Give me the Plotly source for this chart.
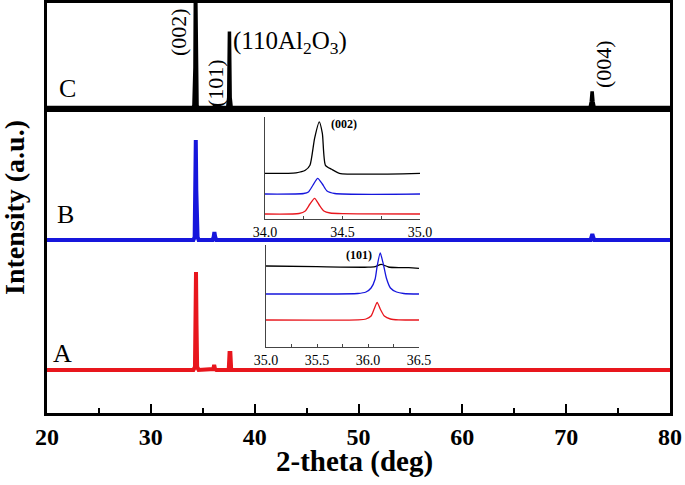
import numpy as np
import plotly.graph_objects as go

# ---------------- data ----------------
# main panel, sample A (red)
two_theta_A = [20, 34.1, 34.25, 34.3, 34.35, 34.4, 34.46, 34.6, 35.9, 36.02, 36.1, 36.18, 36.3,
               37.5, 37.58, 37.66, 37.74, 72.35, 72.5, 72.65, 80]
intensity_A = [0, 0, 3, 45, 98, 45, 3, 0, 0, 1, 5, 1, 0,
               0, 17, 17, 0, 0, 1, 0, 0]
# sample B (blue)
two_theta_B = [20, 34.1, 34.22, 34.28, 34.33, 34.38, 34.43, 34.5, 34.6, 35.95, 36.05, 36.12, 36.2, 36.3,
               72.35, 72.45, 72.52, 72.6, 72.7, 80]
intensity_B = [0, 0, 3, 50, 100, 50, 6, 3, 0, 0, 3, 8, 3, 0,
               0, 3, 6, 3, 0, 0]
# sample C (black, top panel)
two_theta_C = [20, 34.05, 34.15, 34.25, 34.3, 34.35, 34.45, 34.55, 35.95, 36.1, 36.25,
               37.4, 37.5, 37.57, 37.64, 37.74, 72.3, 72.42, 72.5, 72.58, 72.7, 80]
intensity_C = [0, 0, 2, 40, 140, 40, 2, 0, 0, 1, 0,
               0, 10, 76, 10, 0, 0, 6, 16, 6, 0, 0]

# inset 1: (002) region
inset1_x_black = [34.0, 34.2, 34.26, 34.29, 34.32, 34.35, 34.37, 34.39, 34.43, 34.48, 35.0]
inset1_black = [0, 0.5, 3, 8, 35, 51.5, 40, 8, 4, 0, 0]
inset1_x_blue = [34.0, 34.25, 34.28, 34.31, 34.34, 34.37, 34.40, 34.45, 35.0]
inset1_blue = [0, 0.5, 2, 9, 15.7, 10, 3, 0.5, 0]
inset1_x_red = [34.0, 34.22, 34.26, 34.29, 34.32, 34.35, 34.38, 34.42, 34.5, 35.0]
inset1_red = [0, 0.5, 3, 10, 15.7, 9, 3, 1, 0.3, 0]

# inset 2: (101) region
inset2_x_black = [35.0, 35.5, 36.0, 36.07, 36.13, 36.2, 36.3, 36.4, 36.5]
inset2_black = [0, -0.7, -1.2, -0.7, 1.7, -1, -1.7, -1.7, -2.3]
inset2_x_blue = [35.0, 35.5, 35.9, 35.98, 36.03, 36.07, 36.09, 36.12, 36.15, 36.18, 36.22, 36.28, 36.35, 36.5]
inset2_blue = [0, 0, 0.5, 2, 6, 15, 28, 41, 30, 16, 6, 2, 0.5, 0]
inset2_x_red = [35.0, 35.9, 35.98, 36.03, 36.06, 36.09, 36.12, 36.16, 36.22, 36.3, 36.5]
inset2_red = [0, 0.2, 1, 4, 11, 17.7, 11, 4, 1, 0.2, 0]

main_ticks = [20, 30, 40, 50, 60, 70, 80]

# ---------------- styling / layout ----------------
W, H = 685, 485
RED = "#e8161d"
BLUE = "#1616dc"
FONT = "Liberation Serif"

def px_x(p):
    return p / W

def px_y(p):
    return 1 - p / H

# vertical offsets of stacked patterns
OFF_A, OFF_B, OFF_C = 43, 173, 1.5
IN1 = dict(black=45.7, blue=25, red=5)
IN2 = dict(black=81, blue=53, red=27)

fig = go.Figure()

fig.add_trace(go.Scatter(x=two_theta_A, y=np.array(intensity_A) + OFF_A, mode="lines",
                         line=dict(color=RED, width=4), xaxis="x", yaxis="y", showlegend=False))
fig.add_trace(go.Scatter(x=two_theta_B, y=np.array(intensity_B) + OFF_B, mode="lines",
                         line=dict(color=BLUE, width=4), xaxis="x", yaxis="y", showlegend=False))
fig.add_trace(go.Scatter(x=two_theta_C, y=np.array(intensity_C) + OFF_C, mode="lines",
                         line=dict(color="black", width=3.5), xaxis="x2", yaxis="y2", showlegend=False))

ins_w = 1.3
spl = dict(shape="spline", smoothing=0.6)
fig.add_trace(go.Scatter(x=inset1_x_black, y=np.array(inset1_black) + IN1["black"], mode="lines",
                         line=dict(color="black", width=ins_w, **spl), xaxis="x3", yaxis="y3", showlegend=False))
fig.add_trace(go.Scatter(x=inset1_x_blue, y=np.array(inset1_blue) + IN1["blue"], mode="lines",
                         line=dict(color=BLUE, width=ins_w, **spl), xaxis="x3", yaxis="y3", showlegend=False))
fig.add_trace(go.Scatter(x=inset1_x_red, y=np.array(inset1_red) + IN1["red"], mode="lines",
                         line=dict(color=RED, width=ins_w, **spl), xaxis="x3", yaxis="y3", showlegend=False))
fig.add_trace(go.Scatter(x=inset2_x_black, y=np.array(inset2_black) + IN2["black"], mode="lines",
                         line=dict(color="black", width=ins_w, **spl), xaxis="x4", yaxis="y4", showlegend=False))
fig.add_trace(go.Scatter(x=inset2_x_blue, y=np.array(inset2_blue) + IN2["blue"], mode="lines",
                         line=dict(color=BLUE, width=ins_w, **spl), xaxis="x4", yaxis="y4", showlegend=False))
fig.add_trace(go.Scatter(x=inset2_x_red, y=np.array(inset2_red) + IN2["red"], mode="lines",
                         line=dict(color=RED, width=ins_w, **spl), xaxis="x4", yaxis="y4", showlegend=False))

x_dom = [px_x(47), px_x(670)]
frame = dict(showline=True, linecolor="black", linewidth=2.5, mirror=True,
             showgrid=False, zeroline=False, automargin=False)

layout = dict(
    width=W, height=H,
    margin=dict(l=0, r=0, t=0, b=0, autoexpand=False),
    paper_bgcolor="white", plot_bgcolor="rgba(0,0,0,0)",
    font=dict(family=FONT, color="black"),
    xaxis=dict(domain=x_dom, anchor="y", range=[20, 80], tickmode="array", tickvals=main_ticks,
               ticks="inside", ticklen=9, tickwidth=2, tickcolor="black",
               minor=dict(ticks="inside", ticklen=5, tickwidth=2, dtick=5, tick0=20, tickcolor="black"),
               tickfont=dict(family=FONT, size=24, weight="bold", color="black"), **frame),
    yaxis=dict(domain=[px_y(413), px_y(109)], anchor="x", range=[0, 304], showticklabels=False,
               ticks="", **frame),
    xaxis2=dict(domain=x_dom, anchor="y2", range=[20, 80], matches="x", showticklabels=False, ticks="", **frame),
    yaxis2=dict(domain=[px_y(109), px_y(3)], anchor="x2", range=[0, 106], showticklabels=False, ticks="", **frame),
)

inset_x = dict(showline=True, linecolor="#444444", linewidth=1.2, mirror=False, showgrid=False, zeroline=False,
               ticks="inside", ticklen=3, tickwidth=1, tickcolor="#444444", tickformat=".1f", automargin=False,
               tickfont=dict(family=FONT, size=14, color="black"))
inset_y = dict(showline=True, linecolor="#444444", linewidth=1.2, mirror=False, showgrid=False, zeroline=False,
               ticks="", showticklabels=False, automargin=False)

layout["xaxis3"] = dict(domain=[px_x(265), px_x(420)], anchor="y3", range=[34.0, 35.0], dtick=0.5, tick0=34,
                        minor=dict(ticks="inside", ticklen=3, dtick=0.25, tick0=34, tickcolor="#444444"), **inset_x)
layout["yaxis3"] = dict(domain=[px_y(219), px_y(117)], anchor="x3", range=[0, 102], **inset_y)
layout["xaxis4"] = dict(domain=[px_x(266), px_x(419)], anchor="y4", range=[35.0, 36.5], dtick=0.5, tick0=35,
                        minor=dict(ticks="inside", ticklen=3, dtick=0.25, tick0=35, tickcolor="#444444"), **inset_x)
layout["yaxis4"] = dict(domain=[px_y(347), px_y(245)], anchor="x4", range=[0, 102], **inset_y)

fig.update_layout(**layout)

def note(text, x, y, size, angle=0, bold=False, xanchor="center"):
    fig.add_annotation(text=text, x=px_x(x), y=px_y(y), xref="paper", yref="paper",
                       xanchor=xanchor, yanchor="middle", showarrow=False, textangle=angle,
                       font=dict(family=FONT, size=size, color="black", weight="bold" if bold else "normal"))

note("C", 67, 88, 26)
note("B", 65, 214, 26)
note("A", 63, 353, 26)
note("(002)", 179, 32, 22, angle=-90)
note("(101)", 215, 83, 22, angle=-90)
note("(110Al<sub>2</sub>O<sub>3</sub>)", 231, 42, 25, xanchor="left")
note("(004)", 604, 64, 22, angle=-90)
note("(002)", 344, 124, 12, bold=True)
note("(101)", 359, 255, 12, bold=True)
note("Intensity (a.u.)", 14, 208, 28, angle=-90, bold=True)
note("2-theta (deg)", 354, 461, 29, bold=True)

fig.write_html("out.html", config={"displayModeBar": False},
               post_script="document.body.style.margin='0';document.body.style.overflow='hidden';")
